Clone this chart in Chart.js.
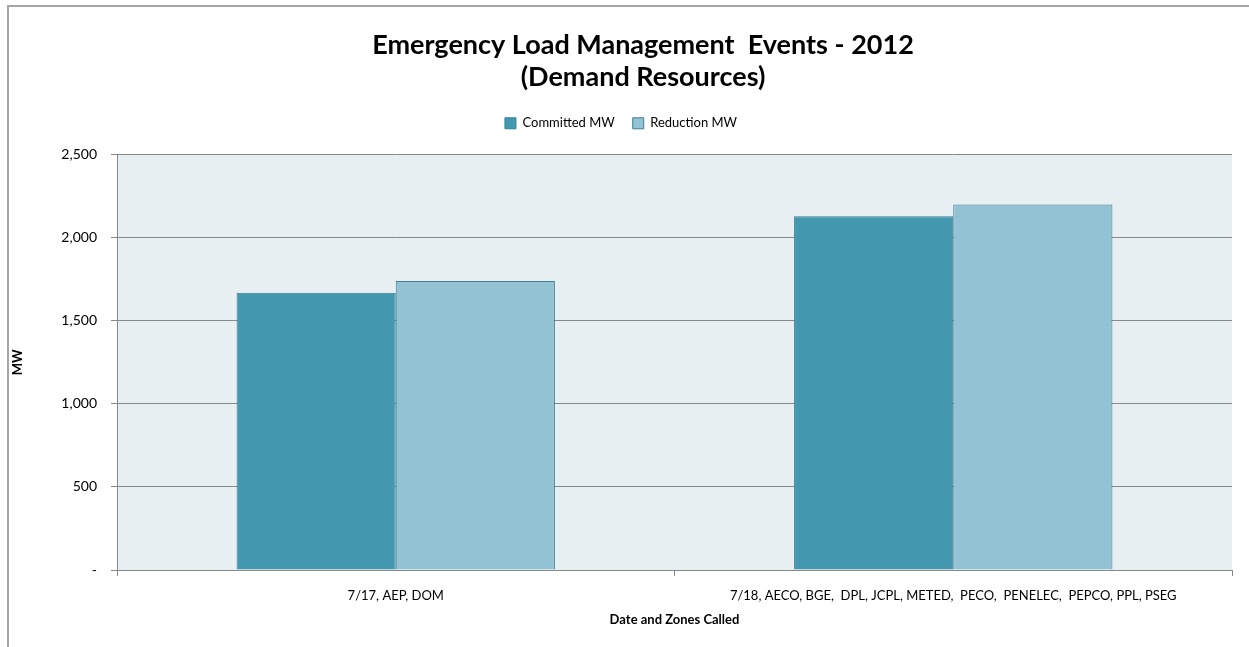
<!DOCTYPE html>
<html lang='en'>
  <head>
    <title>Emergency Load Management Events - 2012</title>
    <meta charset='UTF-8'>
    <script src='https://cdn.jsdelivr.net/npm/chart.js@4.4.1/dist/chart.umd.min.js'></script>
    <style>
      html, body { margin: 0; padding: 0; background: #fff; overflow: hidden; }
      #frame { position: absolute; left: 7px; top: 5px; width: 1300px; height: 700px; border: 2px solid #a6a6a6; }
      #wrap { position: absolute; left: 0; top: 0; width: 1249px; height: 647px; }
    </style>
  </head>
  <body>
    <div id='frame'></div>
    <div id='wrap'><canvas id='grafico' width='1249' height='647'></canvas></div>
    <script>
      // zones called on each event day
      let categories = [
        '7/17, AEP, DOM',
        '7/18, AECO, BGE,  DPL, JCPL, METED,  PECO,  PENELEC,  PEPCO, PPL, PSEG'
      ];
      let committedMW = [1670, 2130];
      let reductionMW = [1740, 2200];
      let yTicks = [0, 500, 1000, 1500, 2000, 2500];

      let fontFamily = 'Lato, "Open Sans", sans-serif';

      // fills the plot area behind the bars
      let plotBackground = {
        id: 'plotBackground',
        beforeDraw(chart) {
          let a = chart.chartArea, c = chart.ctx;
          c.save();
          c.fillStyle = '#e8eff3';
          c.fillRect(a.left, a.top, a.right - a.left, a.bottom - a.top);
          c.restore();
        }
      };

      // extra room under the legend, and the title centred on the whole frame
      let headerTweak = {
        id: 'headerTweak',
        beforeInit(chart) {
          let fit = chart.legend.fit;
          chart.legend.fit = function() {
            fit.bind(chart.legend)();
            this.height += 15;
          };
        },
        afterLayout(chart) {
          chart.titleBlock.left += 44;
        }
      };

      let ctx = document.getElementById('grafico').getContext('2d');
      let myChart = new Chart(ctx, {
        type: 'bar',
        data: {
          labels: categories,
          datasets: [
            {
              label: 'Committed MW',
              data: committedMW,
              backgroundColor: '#4397ae',
              borderColor: '#367f94',
              borderWidth: 1,
              borderSkipped: 'bottom'
            },
            {
              label: 'Reduction MW',
              data: reductionMW,
              backgroundColor: '#93c2d4',
              borderColor: '#3f7f92',
              borderWidth: 1,
              borderSkipped: 'bottom'
            }
          ]
        },
        options: {
          responsive: false,
          animation: false,
          datasets: { bar: { barPercentage: 1.0, categoryPercentage: 0.571 } },
          layout: { padding: { left: 10, right: 17, top: 0, bottom: 19 } },
          plugins: {
            title: {
              display: true,
              text: ['Emergency Load Management  Events - 2012', '(Demand Resources)'],
              color: '#000',
              font: { family: fontFamily, size: 27, weight: 'bold', lineHeight: 1.2 },
              padding: { top: 29, bottom: 5 }
            },
            legend: {
              position: 'top',
              labels: {
                color: '#000',
                boxWidth: 11,
                boxHeight: 11,
                padding: 18,
                font: { family: fontFamily, size: 13 }
              }
            },
            tooltip: { enabled: false }
          },
          scales: {
            x: {
              afterFit: scale => { scale.height = 58; },
              grid: { display: true, drawOnChartArea: false, offset: true, color: '#888', tickLength: 6 },
              border: { color: '#888', width: 1 },
              ticks: { color: '#000', font: { family: fontFamily, size: 13 }, maxRotation: 0, padding: 12 },
              title: {
                display: true,
                text: 'Date and Zones Called',
                color: '#000',
                font: { family: fontFamily, size: 13, weight: 'bold' },
                padding: { top: 6, bottom: 0 }
              }
            },
            y: {
              min: 0,
              max: 2500,
              afterBuildTicks: scale => { scale.ticks = yTicks.map(v => ({ value: v })); },
              afterFit: scale => { scale.width = 107; },
              grid: { color: '#888', tickLength: 6 },
              border: { color: '#888', width: 1 },
              ticks: {
                color: '#000',
                font: { family: fontFamily, size: 14 },
                padding: 14,
                callback: v => v === 0 ? '-' : v.toLocaleString('en-US')
              },
              title: {
                display: true,
                text: 'MW',
                color: '#000',
                font: { family: fontFamily, size: 13, weight: 'bold' },
                padding: { top: 0, bottom: 10 }
              }
            }
          }
        },
        plugins: [plotBackground, headerTweak]
      });
    </script>
  </body>
</html>
